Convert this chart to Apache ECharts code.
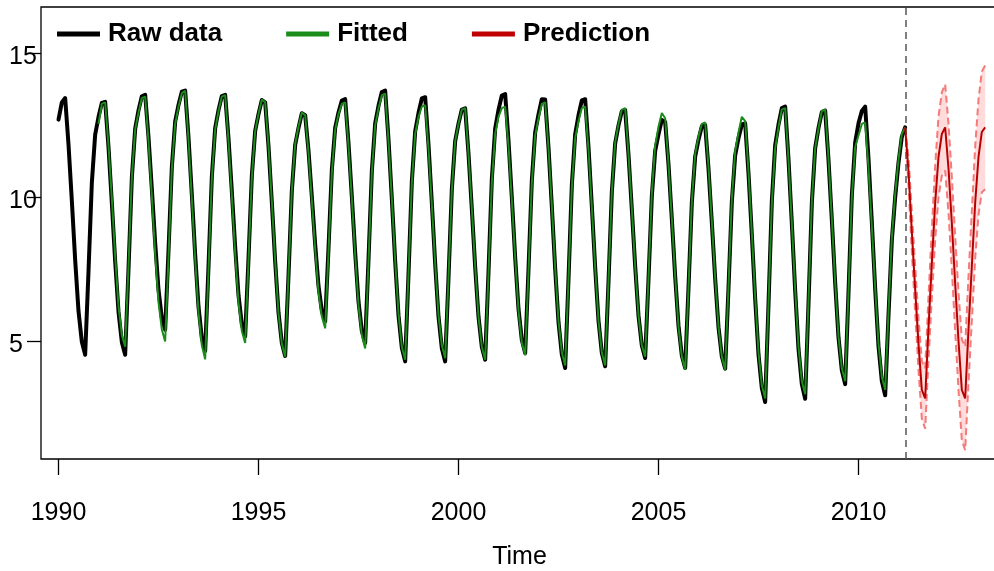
<!DOCTYPE html>
<html>
<head>
<meta charset="utf-8">
<title>Raw data, fitted and prediction</title>
<script src="https://cdn.jsdelivr.net/npm/echarts@6/dist/echarts.min.js"></script>
<style>
  html, body { margin: 0; padding: 0; background: #fff; }
  #chart { width: 994px; height: 571px; }
</style>
</head>
<body>
<div id="chart"></div>
<script>
// monthly values, one row per year (Jan..Dec)
var rawStart = 1990;
var raw = [
  12.70, 13.30, 13.45, 11.84, 9.88, 7.82, 6.04, 4.97, 4.52, 7.42, 10.50, 12.18,
  12.79, 13.28, 13.32, 11.74, 9.80, 7.78, 6.02, 4.96, 4.52, 7.50, 10.67, 12.38,
  13.02, 13.51, 13.56, 12.09, 10.29, 8.41, 6.78, 5.80, 5.39, 8.14, 11.05, 12.63,
  13.21, 13.67, 13.71, 12.08, 10.09, 8.00, 6.19, 5.10, 4.65, 7.59, 10.71, 12.40,
  13.03, 13.52, 13.56, 12.05, 10.20, 8.27, 6.59, 5.58, 5.16, 7.87, 10.75, 12.31,
  12.89, 13.38, 13.30, 11.78, 9.82, 7.77, 5.99, 4.93, 4.48, 7.27, 10.22, 11.82,
  12.41, 12.92, 12.85, 11.62, 10.02, 8.36, 6.91, 6.04, 5.68, 8.23, 10.94, 12.41,
  12.95, 13.36, 13.41, 11.88, 10.02, 8.07, 6.37, 5.35, 4.93, 7.83, 10.90, 12.57,
  13.18, 13.66, 13.71, 12.01, 9.94, 7.78, 5.89, 4.76, 4.29, 7.32, 10.54, 12.29,
  12.93, 13.44, 13.48, 11.83, 9.80, 7.69, 5.85, 4.75, 4.29, 7.19, 10.27, 11.95,
  12.56, 13.05, 13.09, 11.52, 9.59, 7.58, 5.84, 4.79, 4.35, 7.40, 10.63, 12.39,
  13.04, 13.54, 13.59, 11.97, 9.99, 7.91, 6.11, 5.03, 4.58, 7.49, 10.58, 12.26,
  12.88, 13.41, 13.40, 11.73, 9.67, 7.52, 5.65, 4.53, 4.06, 7.15, 10.42, 12.19,
  12.85, 13.37, 13.41, 11.74, 9.69, 7.56, 5.70, 4.58, 4.12, 7.06, 10.18, 11.87,
  12.50, 12.99, 13.03, 11.48, 9.58, 7.60, 5.88, 4.84, 4.41, 7.14, 10.04, 11.61,
  12.19, 12.69, 12.62, 11.14, 9.24, 7.25, 5.53, 4.49, 4.06, 6.85, 9.81, 11.41,
  12.00, 12.47, 12.51, 10.99, 9.12, 7.17, 5.48, 4.46, 4.04, 6.85, 9.84, 11.46,
  12.06, 12.53, 12.57, 10.83, 8.69, 6.47, 4.53, 3.36, 2.88, 6.27, 9.86, 11.81,
  12.53, 13.10, 13.15, 11.32, 9.09, 6.75, 4.72, 3.50, 2.99, 6.30, 9.80, 11.71,
  12.41, 12.96, 13.01, 11.30, 9.21, 7.02, 5.12, 3.98, 3.50, 6.68, 10.06, 11.90,
  12.57, 13.00, 13.15, 11.34, 9.13, 6.82, 4.82, 3.61, 3.11, 5.90, 8.50, 10.00,
  11.20, 12.10, 12.43
];

var fittedStart = 1991;
var fitted = [
  12.55, 13.25, 13.30, 11.80, 9.95, 7.95, 6.20, 5.20, 4.80, 7.60, 10.70, 12.35,
  12.95, 13.45, 13.50, 11.95, 10.05, 8.05, 6.35, 5.40, 4.98, 7.90, 11.00, 12.55,
  13.15, 13.62, 13.70, 12.00, 9.95, 7.85, 6.00, 4.85, 4.36, 7.45, 10.65, 12.35,
  13.00, 13.50, 13.55, 11.95, 10.05, 8.05, 6.35, 5.35, 4.93, 7.80, 10.70, 12.30,
  12.90, 13.40, 13.30, 11.80, 9.85, 7.80, 5.95, 4.90, 4.45, 7.30, 10.25, 11.85,
  12.45, 12.95, 12.85, 11.55, 9.90, 8.20, 6.70, 5.85, 5.44, 8.10, 10.85, 12.35,
  12.90, 13.25, 13.30, 11.80, 9.95, 8.00, 6.25, 5.20, 4.74, 7.75, 10.85, 12.50,
  13.10, 13.55, 13.60, 11.95, 9.95, 7.80, 5.95, 4.80, 4.35, 7.35, 10.50, 12.20,
  12.80, 13.15, 13.20, 11.70, 9.75, 7.70, 5.90, 4.85, 4.40, 7.20, 10.25, 11.95,
  12.55, 13.05, 13.10, 11.50, 9.60, 7.60, 5.85, 4.80, 4.35, 7.35, 10.50, 12.20,
  12.80, 13.10, 13.15, 11.80, 9.90, 7.90, 6.05, 4.95, 4.50, 7.40, 10.50, 12.15,
  12.75, 13.25, 13.30, 11.70, 9.70, 7.55, 5.70, 4.60, 4.15, 7.15, 10.35, 12.05,
  12.65, 13.10, 13.15, 11.65, 9.65, 7.55, 5.70, 4.60, 4.15, 7.10, 10.20, 11.90,
  12.55, 13.05, 13.10, 11.50, 9.60, 7.60, 5.90, 4.85, 4.45, 7.20, 10.15, 11.80,
  12.45, 12.93, 12.75, 11.15, 9.25, 7.25, 5.50, 4.45, 4.00, 6.85, 9.85, 11.50,
  12.10, 12.55, 12.60, 11.05, 9.15, 7.20, 5.50, 4.45, 4.00, 6.90, 9.95, 11.60,
  12.25, 12.80, 12.65, 10.90, 8.75, 6.55, 4.60, 3.45, 3.00, 6.30, 9.80, 11.70,
  12.45, 13.05, 13.10, 11.30, 9.10, 6.80, 4.80, 3.60, 3.15, 6.40, 9.85, 11.70,
  12.40, 13.00, 13.05, 11.35, 9.25, 7.05, 5.15, 4.05, 3.60, 6.70, 10.00, 11.75,
  12.15, 12.55, 12.60, 11.05, 9.00, 6.85, 4.90, 3.75, 3.30, 6.00, 8.60, 10.10,
  11.30, 12.20, 12.43
];

// forecast from Mar 2011 to Mar 2013
var predStart = 2011 + 2 / 12;
var predMean = [
  12.43, 10.90, 8.80, 6.80, 4.90, 3.30, 3.00, 5.45, 7.70, 9.80, 11.40, 12.20,
  12.43, 11.00, 9.10, 7.00, 5.00, 3.30, 3.00, 5.40, 7.60, 9.80, 11.40, 12.27,
  12.43
];
var predUpper = [
  12.43, 11.40, 9.50, 7.60, 5.80, 4.30, 4.05, 6.55, 8.90, 11.10, 12.80, 13.65,
  13.93, 12.55, 10.70, 8.65, 6.70, 5.05, 4.80, 7.25, 9.50, 11.75, 13.40, 14.37,
  14.58
];
var predLower = [
  12.43, 10.40, 8.10, 6.00, 4.00, 2.30, 1.95, 4.35, 6.50, 8.50, 10.00, 10.75,
  10.93, 9.45, 7.50, 5.35, 3.30, 1.55, 1.20, 3.55, 5.70, 7.85, 9.40, 10.17,
  10.28
];

var xTicks = [1990, 1995, 2000, 2005, 2010];
var yTicks = [5, 10, 15];

function toPoints(start, values) {
  return values.map(function (v, i) { return [start + i / 12, v]; });
}

var lastObs = rawStart + (raw.length - 1) / 12;
var font = 'Liberation Sans, Arial, sans-serif';

var myChart = echarts.init(document.getElementById('chart'));
var option = {
  animation: false,
  backgroundColor: '#fff',
  grid: {
    left: 41,
    right: -4,
    top: 7,
    bottom: 112,
    outerBoundsMode: 'none',
    show: true,
    borderColor: '#000',
    borderWidth: 1.3
  },
  legend: {
    data: ['Raw data', 'Fitted', 'Prediction'],
    left: 52,
    top: 16,
    icon: 'rect',
    itemWidth: 43,
    itemHeight: 5,
    itemGap: 64,
    textStyle: {
      fontFamily: font,
      fontSize: 26,
      fontWeight: 'bold',
      color: '#000',
      padding: [0, 0, 0, 3]
    }
  },
  xAxis: {
    type: 'value',
    min: 1989.5625,
    max: 1989.5625 + 957 / 40,
    name: 'Time',
    nameLocation: 'middle',
    nameGap: 86,
    nameTextStyle: { fontFamily: font, fontSize: 25, color: '#000' },
    axisLine: { show: false },
    splitLine: { show: false },
    axisTick: {
      customValues: xTicks,
      length: 16,
      lineStyle: { color: '#000', width: 1.3 }
    },
    axisLabel: {
      customValues: xTicks,
      margin: 42,
      fontFamily: font,
      fontSize: 25,
      color: '#000',
      formatter: function (v) { return String(v); }
    }
  },
  yAxis: {
    type: 'value',
    min: 0.895,
    max: 16.617,
    axisLine: { show: false },
    splitLine: { show: false },
    axisTick: {
      customValues: yTicks,
      length: 14,
      lineStyle: { color: '#000', width: 1.3 }
    },
    axisLabel: {
      customValues: yTicks,
      align: 'left',
      margin: 32,
      // empty line above pushes the number a little below its tick
      formatter: function (v) { return '{s| }\n{v|' + v + '}'; },
      rich: {
        s: { fontSize: 8, lineHeight: 8 },
        v: { fontFamily: font, fontSize: 25, lineHeight: 25, color: '#000' }
      }
    }
  },
  series: [
    {
      // prediction interval band
      type: 'custom',
      silent: true,
      z: 1,
      data: [[predStart, predMean[0]]],
      renderItem: function (params, api) {
        var pts = [];
        predUpper.forEach(function (v, i) {
          pts.push(api.coord([predStart + i / 12, v]));
        });
        for (var i = predLower.length - 1; i >= 0; i--) {
          pts.push(api.coord([predStart + i / 12, predLower[i]]));
        }
        return {
          type: 'polygon',
          shape: { points: pts },
          style: { fill: '#ffdbdb' }
        };
      }
    },
    {
      name: 'upper',
      type: 'line',
      z: 2,
      symbol: 'none',
      silent: true,
      data: toPoints(predStart, predUpper),
      lineStyle: { color: '#f57a7a', width: 2, type: [7, 4] }
    },
    {
      name: 'lower',
      type: 'line',
      z: 2,
      symbol: 'none',
      silent: true,
      data: toPoints(predStart, predLower),
      lineStyle: { color: '#f57a7a', width: 2, type: [7, 4] }
    },
    {
      name: 'Raw data',
      type: 'line',
      z: 3,
      symbol: 'none',
      data: toPoints(rawStart, raw),
      itemStyle: { color: '#000' },
      lineStyle: { color: '#000', width: 4, join: 'round', cap: 'round' },
      markLine: {
        silent: true,
        symbol: 'none',
        label: { show: false },
        lineStyle: { color: '#555', width: 1.5, type: [7, 5] },
        data: [{ xAxis: lastObs }]
      }
    },
    {
      name: 'Fitted',
      type: 'line',
      z: 4,
      symbol: 'none',
      data: toPoints(fittedStart, fitted),
      itemStyle: { color: '#1a8c1a' },
      lineStyle: { color: '#1a8c1a', width: 2 }
    },
    {
      name: 'Prediction',
      type: 'line',
      z: 5,
      symbol: 'none',
      data: toPoints(predStart, predMean),
      itemStyle: { color: '#c00000' },
      lineStyle: { color: '#b80000', width: 2 }
    }
  ]
};

myChart.setOption(option);
window.addEventListener('resize', function () {
  myChart.resize();
});
</script>
</body>
</html>
